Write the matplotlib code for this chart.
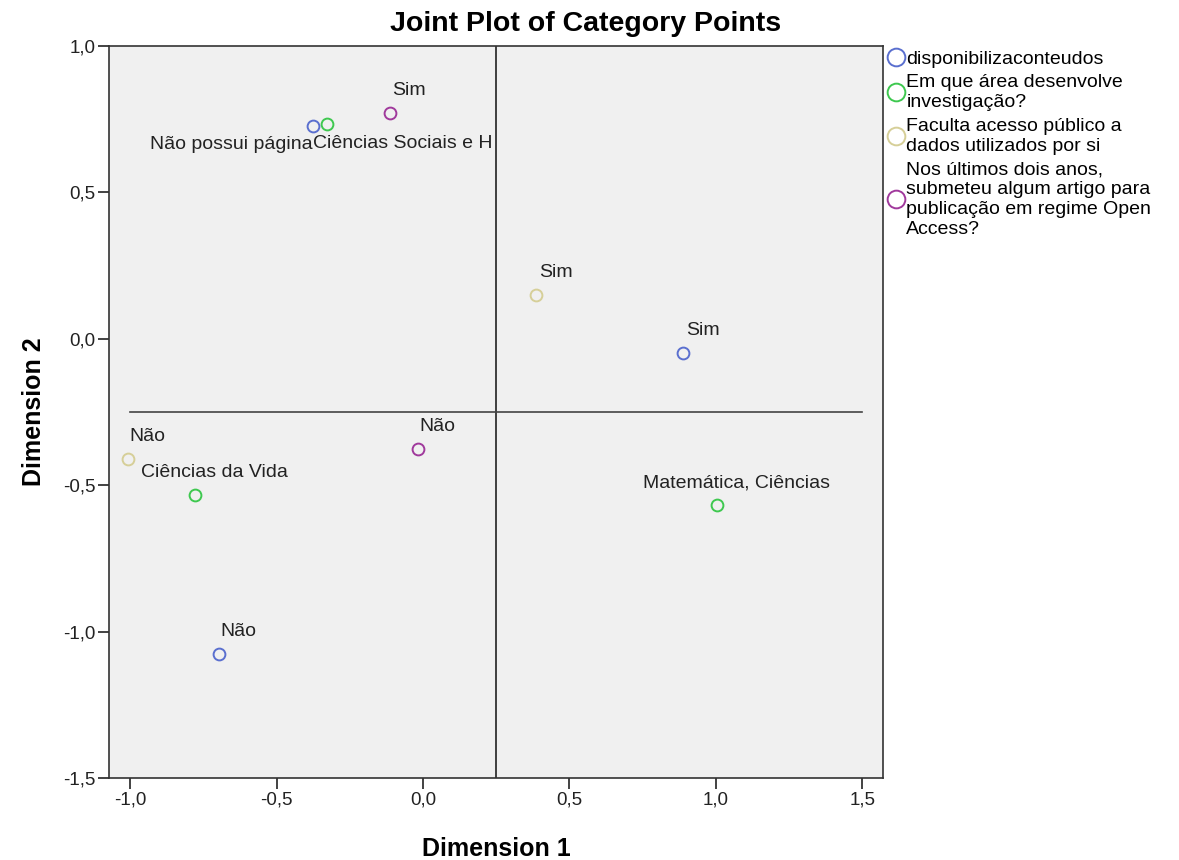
import matplotlib.pyplot as plt

plt.rcParams['font.family'] = ['Liberation Sans', 'DejaVu Sans']

# category points (dimension 1, dimension 2) per variable
disp_x = [-0.376, 0.888, -0.697]
disp_y = [0.727, -0.048, -1.076]
disp_lab = ['Não possui página', 'Sim', 'Não']

area_x = [-0.328, -0.779, 1.004]
area_y = [0.734, -0.533, -0.567]
area_lab = ['Ciências Sociais e H', 'Ciências da Vida', 'Matemática, Ciências']

fac_x = [0.386, -1.007]
fac_y = [0.150, -0.410]
fac_lab = ['Sim', 'Não']

oa_x = [-0.113, -0.017]
oa_y = [0.772, -0.376]
oa_lab = ['Sim', 'Não']

legend_names = ['disponibilizaconteudos',
                'Em que área desenvolve\ninvestigação?',
                'Faculta acesso público a\ndados utilizados por si',
                'Nos últimos dois anos,\nsubmeteu algum artigo para\npublicação em regime Open\nAccess?']
colors = ['#5a6fcf', '#3ec84f', '#d6cf98', '#a0399c']

fig = plt.figure(figsize=(11.79, 8.60), dpi=100)
ax = fig.add_axes([0.0925, 0.0953, 0.6565, 0.8512])
ax.set_facecolor('#f0f0f0')

series = [(disp_x, disp_y, disp_lab), (area_x, area_y, area_lab),
          (fac_x, fac_y, fac_lab), (oa_x, oa_y, oa_lab)]
handles = []
for (xs, ys, labs), c in zip(series, colors):
    h, = ax.plot(xs, ys, 'o', ls='none', mfc='none', mec=c, mew=1.4, ms=8.5, zorder=3)
    handles.append(h)
    for x, y, t in zip(xs, ys, labs):
        # default placement: above and a bit right
        dx, dy, ha = 14, 16, 'center'
        if t == 'Não possui página':
            dx, dy, ha = 0, -13, 'right'
        elif t == 'Ciências Sociais e H':
            dx, dy, ha = -10, -14, 'left'
        ax.annotate(t, (x, y), xytext=(dx, dy), textcoords='offset points',
                    ha=ha, va='center', fontsize=14, color='#222222')

# reference lines through the centroid
ax.axvline(0.25, color='#222222', lw=1.2, zorder=2)
ax.plot([-1.0, 1.5], [-0.25, -0.25], color='#444444', lw=1.2, zorder=2)

ax.set_xlim(-1.072, 1.571)
ax.set_ylim(-1.5, 1.0)
xt = [-1.0, -0.5, 0.0, 0.5, 1.0, 1.5]
yt = [-1.5, -1.0, -0.5, 0.0, 0.5, 1.0]
ax.set_xticks(xt)
ax.set_xticklabels([f'{v:.1f}'.replace('.', ',') for v in xt])
ax.set_yticks(yt)
ax.set_yticklabels([f'{v:.1f}'.replace('.', ',') for v in yt])
ax.tick_params(direction='out', length=8, width=1.2, pad=2, labelsize=13.5, colors='#222222')
for s in ax.spines.values():
    s.set_color('#333333')
    s.set_linewidth(1.2)

fig.suptitle('Joint Plot of Category Points', x=0.497, y=0.972, va='center',
             fontsize=20.5, fontweight='bold')
ax.set_xlabel('Dimension 1', fontsize=18, fontweight='bold', labelpad=20)
ax.set_ylabel('Dimension 2', fontsize=18, fontweight='bold', labelpad=12)

leg = ax.legend(handles, legend_names, loc='upper left', bbox_to_anchor=(1.0, 1.0),
                frameon=False, fontsize=14, handletextpad=0.1, handlelength=0.9,
                labelspacing=0.35, borderaxespad=0.0, borderpad=0.2, markerscale=1.5)
for txt in leg.get_texts():
    txt.set_linespacing(1.21)

fig.savefig('out.png', dpi=100)
